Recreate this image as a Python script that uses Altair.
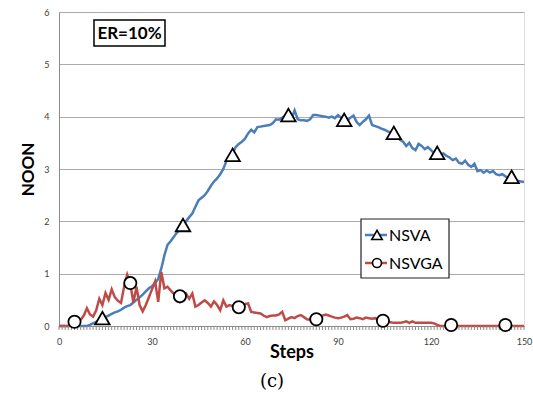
import altair as alt
import pandas as pd

steps = list(range(151))

nsva = [
    0, 0, 0, 0, 0, 0, 0, 0, 0, 0.0,
    0.02, 0.05, 0.08, 0.11, 0.14, 0.17, 0.20, 0.23, 0.26, 0.28,
    0.31, 0.35, 0.38, 0.40, 0.45, 0.50, 0.55, 0.60, 0.66, 0.72,
    0.76, 0.82, 0.90, 1.10, 1.35, 1.55, 1.62, 1.70, 1.78, 1.85,
    1.92, 2.00, 2.08, 2.15, 2.28, 2.40, 2.45, 2.50, 2.58, 2.68,
    2.76, 2.82, 2.90, 3.00, 3.15, 3.24, 3.30, 3.42, 3.48, 3.52,
    3.58, 3.68, 3.75, 3.70, 3.80, 3.81, 3.82, 3.83, 3.84, 3.88,
    3.95, 3.94, 3.98, 4.02, 4.00, 3.96, 4.12, 3.95, 3.93, 3.93,
    3.92, 3.95, 4.03, 4.03, 4.02, 4.01, 4.00, 3.98, 4.00, 3.97,
    4.03, 3.98, 3.94, 3.92, 3.98, 4.02, 3.90, 3.84, 3.90, 3.95,
    4.02, 3.84, 3.82, 3.80, 3.77, 3.75, 3.72, 3.70, 3.66, 3.62,
    3.56, 3.52, 3.44, 3.50, 3.40, 3.36, 3.48, 3.44, 3.38, 3.42,
    3.36, 3.30, 3.32, 3.28, 3.30, 3.25, 3.22, 3.17, 3.20, 3.12,
    3.10, 3.16, 3.08, 3.04, 3.10, 2.96, 2.98, 2.93, 2.97, 2.93,
    2.96, 2.90, 2.88, 2.90, 2.86, 2.83, 2.80, 2.78, 2.77, 2.76,
    2.75,
]

nsvga = [
    0, 0, 0, 0, 0.02, 0.05, 0.10, 0.12, 0.20, 0.34,
    0.22, 0.18, 0.30, 0.52, 0.40, 0.63, 0.50, 0.70, 0.55, 0.48,
    0.44, 0.75, 0.98, 0.80, 0.45, 0.75, 0.40, 0.28, 0.40, 0.55,
    0.70, 0.85, 0.46, 1.03, 0.72, 0.75, 0.68, 0.62, 0.56, 0.46,
    0.55, 0.62, 0.52, 0.62, 0.37, 0.40, 0.45, 0.49, 0.44, 0.37,
    0.47, 0.40, 0.30, 0.49, 0.37, 0.40, 0.38, 0.36, 0.36, 0.40,
    0.42, 0.43, 0.27, 0.26, 0.25, 0.24, 0.20, 0.17, 0.19, 0.20,
    0.20, 0.22, 0.27, 0.11, 0.14, 0.17, 0.15, 0.19, 0.21, 0.17,
    0.13, 0.12, 0.13, 0.13, 0.17, 0.20, 0.22, 0.20, 0.18, 0.16,
    0.15, 0.16, 0.18, 0.21, 0.13, 0.14, 0.16, 0.15, 0.13, 0.16,
    0.15, 0.14, 0.15, 0.12, 0.11, 0.10, 0.08, 0.07, 0.06, 0.06,
    0.06, 0.07, 0.09, 0.06, 0.09, 0.06, 0.06, 0.06, 0.06, 0.06,
    0.06, 0.05, 0.02, 0, 0, 0, 0, 0, 0, 0,
    0, 0, 0, 0, 0, 0, 0, 0, 0, 0,
    0, 0, 0, 0, 0, 0, 0, 0, 0, 0,
    0,
]

tri_steps = [14, 40, 56, 74, 92, 108, 122, 146]
tri_vals = [0.15, 1.93, 3.27, 4.03, 3.94, 3.69, 3.31, 2.85]
circ_steps = [5, 23, 39, 58, 83, 104.5, 126.5, 144]
circ_vals = [0.08, 0.82, 0.57, 0.36, 0.13, 0.10, 0.02, 0.02]

series_names = ["NSVA", "NSVGA"]
series_colors = ["#4a7ebb", "#be4b48"]
y_ticks = [0, 1, 2, 3, 4, 5, 6]
x_labels = [0, 30, 60, 90, 120, 150]

W, H = 465, 314
FONT = "Lato"

lines_df = pd.DataFrame({
    "step": steps * 2,
    "value": nsva + nsvga,
    "series": ["NSVA"] * len(steps) + ["NSVGA"] * len(steps),
})
tri_df = pd.DataFrame({"step": tri_steps, "value": tri_vals})
circ_df = pd.DataFrame({"step": circ_steps, "value": circ_vals})
tick_df = pd.DataFrame({"step": steps})

xs = alt.Scale(domain=[0, 150], nice=False, zero=False)
ys = alt.Scale(domain=[0, 6], nice=False)

x_axis = alt.Axis(
    values=x_labels,
    grid=False,
    ticks=False,
    domainColor="#8c8c8c",
    labelFont=FONT,
    labelFontSize=9,
    labelColor="#404040",
    labelPadding=11,
    labelFlush=False,
    title="Steps",
    titleFont=FONT,
    titleFontSize=18,
    titleFontWeight="bold",
    titleColor="black",
    titleBaseline="alphabetic",
    titleY=31,
)
y_axis = alt.Axis(
    values=y_ticks,
    grid=True,
    gridColor="#ababab",
    gridWidth=1.2,
    ticks=False,
    domainColor="#8c8c8c",
    labelFont=FONT,
    labelFontSize=9,
    labelColor="#404040",
    labelPadding=10,
    title="NOON",
    titleFont=FONT,
    titleFontSize=17,
    titleFontWeight="bold",
    titleColor="black",
    titleAngle=-90,
    titleBaseline="alphabetic",
    titleX=-26,
)

color_scale = alt.Scale(domain=series_names, range=series_colors)

lines = alt.Chart(lines_df).mark_line(strokeWidth=2.5, clip=False).encode(
    x=alt.X("step:Q", scale=xs, axis=x_axis),
    y=alt.Y("value:Q", scale=ys, axis=y_axis),
    color=alt.Color("series:N", scale=color_scale, legend=None),
    detail="series:N",
)

minor_ticks = alt.Chart(tick_df).mark_rule(color="#8c8c8c", strokeWidth=1).encode(
    x=alt.X("step:Q", scale=xs),
    y=alt.value(H),
    y2=alt.value(H + 4),
)

tris = alt.Chart(tri_df).mark_point(
    shape="triangle-up", size=210, filled=True, fill="white",
    stroke="black", strokeWidth=1.8, opacity=1
).encode(x=alt.X("step:Q", scale=xs), y=alt.Y("value:Q", scale=ys))

circs = alt.Chart(circ_df).mark_point(
    shape="circle", size=150, filled=True, fill="white",
    stroke="black", strokeWidth=1.8, opacity=1
).encode(x=alt.X("step:Q", scale=xs), y=alt.Y("value:Q", scale=ys))

# ER annotation box
er_box = alt.Chart(pd.DataFrame({"a": [0]})).mark_rect(
    fill="white", stroke="black", strokeWidth=1.5
).encode(x=alt.value(35), x2=alt.value(106), y=alt.value(8), y2=alt.value(34))
er_text = alt.Chart(pd.DataFrame({"t": ["ER=10%"]})).mark_text(
    font=FONT, fontSize=17, fontWeight="bold", color="black",
    align="center", baseline="middle"
).encode(text="t:N", x=alt.value(70.5), y=alt.value(21.5))

# Legend (manual)
leg_box = alt.Chart(pd.DataFrame({"a": [0]})).mark_rect(
    fill="white", stroke="#222222", strokeWidth=1.2
).encode(x=alt.value(302), x2=alt.value(390), y=alt.value(207), y2=alt.value(266))

legend_layers = []
leg_y = [223, 251]
leg_shapes = ["triangle-up", "circle"]
leg_sizes = [110, 80]
for name, col, yy, shp, sz in zip(series_names, series_colors, leg_y, leg_shapes, leg_sizes):
    one = pd.DataFrame({"label": [name]})
    legend_layers.append(
        alt.Chart(one).mark_rule(color=col, strokeWidth=2.5).encode(
            x=alt.value(306), x2=alt.value(328), y=alt.value(yy)
        )
    )
    legend_layers.append(
        alt.Chart(one).mark_point(
            shape=shp, size=sz, filled=True, fill="white",
            stroke="black", strokeWidth=1.6, opacity=1
        ).encode(x=alt.value(318), y=alt.value(yy))
    )
    legend_layers.append(
        alt.Chart(one).mark_text(
            font=FONT, fontSize=16, color="black", align="left", baseline="middle"
        ).encode(text="label:N", x=alt.value(330), y=alt.value(yy + 0.5))
    )

cap = alt.Chart(pd.DataFrame({"t": ["(c)"]})).mark_text(
    font="DejaVu Serif", fontSize=18, color="black",
    align="center", baseline="middle"
).encode(text="t:N", x=alt.value(213), y=alt.value(370))

chart = alt.layer(
    lines, minor_ticks, tris, circs, er_box, er_text, leg_box, *legend_layers, cap
).properties(
    width=W, height=H,
    autosize=alt.AutoSizeParams(type="none"),
    padding={"left": 59, "top": 12, "right": 9, "bottom": 68},
).configure_view(stroke=None).configure(background="white")

chart.save("out.html", embed_options={"renderer": "svg", "actions": False})
